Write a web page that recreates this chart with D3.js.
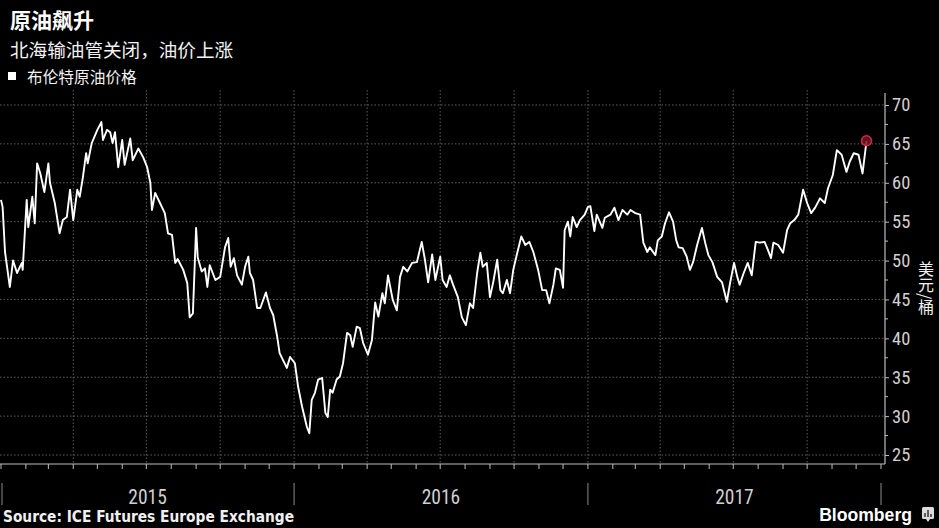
<!DOCTYPE html>
<html><head><meta charset="utf-8">
<script src="https://cdn.jsdelivr.net/npm/d3@7/dist/d3.min.js"></script>
<style>
html,body{margin:0;padding:0;background:#000;}
svg{display:block;}
</style></head>
<body>
<svg id="c" width="939" height="528"></svg>
<script>
const title = "原油飙升";
const subtitle = "北海输油管关闭，油价上涨";
const seriesName = "布伦特原油价格";
const unitLabel = "美元/桶";
const sourceText = "Source: ICE Futures Europe Exchange";
const yearLabels = ["2015", "2016", "2017"];
const yTicks = [25, 30, 35, 40, 45, 50, 55, 60, 65, 70];

const dates = [
"2015-01-01","2015-01-03","2015-01-06","2015-01-12","2015-01-16","2015-01-21","2015-01-27","2015-01-28",
"2015-02-02","2015-02-04","2015-02-09","2015-02-12","2015-02-15","2015-02-19","2015-02-24","2015-03-01",
"2015-03-03","2015-03-09","2015-03-15","2015-03-19","2015-03-24","2015-03-28","2015-04-01","2015-04-06",
"2015-04-09","2015-04-13","2015-04-17","2015-04-19","2015-04-24","2015-05-01","2015-05-06","2015-05-08",
"2015-05-13","2015-05-17","2015-05-20","2015-05-23","2015-05-27","2015-06-01","2015-06-04","2015-06-11",
"2015-06-14","2015-06-21","2015-06-27","2015-07-02","2015-07-06","2015-07-08","2015-07-12","2015-07-18",
"2015-07-24","2015-07-28","2015-08-02","2015-08-06","2015-08-09","2015-08-16","2015-08-21","2015-08-24",
"2015-08-28","2015-09-01","2015-09-03","2015-09-08","2015-09-12","2015-09-15","2015-09-18","2015-09-25",
"2015-10-01","2015-10-07","2015-10-11","2015-10-14","2015-10-18","2015-10-22","2015-10-28","2015-11-01",
"2015-11-05","2015-11-07","2015-11-11","2015-11-16","2015-11-20","2015-11-27","2015-12-02","2015-12-06",
"2015-12-11","2015-12-14","2015-12-23","2015-12-27","2016-01-02","2016-01-06","2016-01-11","2016-01-17",
"2016-01-20","2016-01-23","2016-01-27","2016-01-31","2016-02-05","2016-02-09","2016-02-12","2016-02-15",
"2016-02-18","2016-02-23","2016-02-27","2016-03-02","2016-03-07","2016-03-11","2016-03-14","2016-03-19",
"2016-03-23","2016-03-27","2016-04-02","2016-04-07","2016-04-11","2016-04-15","2016-04-20","2016-04-23",
"2016-04-27","2016-05-03","2016-05-08","2016-05-12","2016-05-16","2016-05-21","2016-05-27","2016-06-02",
"2016-06-08","2016-06-12","2016-06-16","2016-06-21","2016-06-25","2016-07-01","2016-07-04","2016-07-09",
"2016-07-13","2016-07-17","2016-07-23","2016-07-28","2016-08-02","2016-08-07","2016-08-11","2016-08-16",
"2016-08-20","2016-08-23","2016-08-28","2016-09-01","2016-09-05","2016-09-10","2016-09-14","2016-09-17",
"2016-09-22","2016-09-26","2016-09-30","2016-10-05","2016-10-10","2016-10-15","2016-10-20","2016-10-25",
"2016-10-31","2016-11-05","2016-11-10","2016-11-14","2016-11-19","2016-11-22","2016-11-27","2016-12-01",
"2016-12-03","2016-12-07","2016-12-10","2016-12-13","2016-12-18","2016-12-22","2016-12-28","2017-01-01",
"2017-01-04","2017-01-09","2017-01-12","2017-01-19","2017-01-22","2017-01-29","2017-02-03","2017-02-08",
"2017-02-13","2017-02-19","2017-02-23","2017-03-01","2017-03-07","2017-03-11","2017-03-16","2017-03-19",
"2017-03-26","2017-03-29","2017-04-03","2017-04-07","2017-04-12","2017-04-17","2017-04-21","2017-04-24",
"2017-04-29","2017-05-04","2017-05-08","2017-05-12","2017-05-17","2017-05-23","2017-05-27","2017-05-31",
"2017-06-05","2017-06-11","2017-06-17","2017-06-23","2017-06-27","2017-07-02","2017-07-06","2017-07-09",
"2017-07-14","2017-07-19","2017-07-24","2017-07-29","2017-08-03","2017-08-09","2017-08-13","2017-08-17",
"2017-08-20","2017-08-26","2017-09-01","2017-09-06","2017-09-10","2017-09-15","2017-09-20","2017-09-26",
"2017-10-01","2017-10-06","2017-10-11","2017-10-17","2017-10-23","2017-10-27","2017-11-02","2017-11-07",
"2017-11-13","2017-11-19","2017-11-23","2017-11-28","2017-12-04","2017-12-09","2017-12-14"];

const prices = [
57.8,56.9,51.1,46.6,50.0,48.4,49.7,48.8,
57.8,54.3,58.2,54.8,62.5,61.2,58.8,62.5,
60.0,57.4,53.5,55.2,55.6,59.1,55.2,59.1,
58.2,60.7,63.8,62.5,65.1,66.8,67.8,65.5,
66.8,66.5,65.1,66.5,62.0,65.5,62.3,65.7,
62.9,64.4,63.3,62.0,60.0,56.5,58.7,57.4,
56.1,53.5,53.3,49.7,50.2,48.8,47.1,42.7,
43.2,54.2,50.4,48.6,49.0,46.6,49.4,47.5,
47.9,51.7,52.9,49.2,50.3,48.1,46.9,49.2,
50.5,48.4,47.5,43.9,43.9,45.9,43.9,43.0,
40.2,38.1,36.2,37.6,36.8,33.8,31.2,28.6,
27.8,32.1,33.0,34.7,34.9,30.4,29.9,33.4,
33.0,34.7,35.1,36.8,40.7,40.4,38.9,41.5,
41.3,39.4,37.9,39.8,44.6,42.8,45.8,44.5,
48.1,44.9,43.6,47.9,49.2,48.6,49.7,49.8,
52.4,50.1,47.2,50.8,47.5,50.5,47.5,46.6,
48.1,46.9,45.3,42.7,41.7,44.5,43.9,48.4,
51.0,49.2,49.7,45.3,47.2,50.1,46.2,45.8,
47.5,45.8,48.8,51.0,53.1,52.0,52.4,51.1,
48.8,46.2,46.2,44.5,46.9,49.0,48.8,46.5,
53.9,55.0,53.1,55.6,54.3,55.2,55.9,56.9,
57.0,53.8,55.9,54.2,55.5,55.9,56.8,55.2,
56.5,55.9,56.5,56.1,55.9,52.3,51.1,51.7,
50.7,52.6,53.1,54.8,56.2,55.0,52.6,51.7,
51.6,50.5,48.8,49.8,52.0,54.2,52.3,50.7,
49.8,47.9,47.2,44.7,47.1,49.7,47.9,46.9,
48.4,49.7,48.1,52.4,52.3,52.4,51.4,50.3,
52.3,52.0,51.0,53.9,54.8,55.2,55.9,59.1,
57.4,56.1,56.8,58.0,57.4,59.3,61.0,64.2,
63.6,61.4,62.7,63.8,63.6,61.2,65.4];

const parse = d3.timeParse("%Y-%m-%d");
const data = dates.map((d, i) => ({date: parse(d), value: prices[i]}));

const svg = d3.select("#c");
const cjk = '"Noto Sans CJK SC", "Noto Sans", sans-serif';
const narrow = '"Liberation Sans Narrow", "Roboto Condensed", "Liberation Sans", Arial, sans-serif';

const x = d3.scaleTime()
  .domain([new Date(2015, 0, 1), new Date(2018, 0, 1)])
  .range([1, 881]);
const y = d3.scaleLinear().domain([25, 70]).range([455, 105]);

const plotTop = 90, baseY = 464, axisX = 885;

// horizontal grid
svg.append("g").selectAll("line").data(yTicks).join("line")
  .attr("x1", 0).attr("x2", axisX)
  .attr("y1", d => y(d)).attr("y2", d => y(d))
  .attr("stroke", "#5e5e5e").attr("stroke-width", 1)
  .attr("stroke-dasharray", "1.5,2");

// vertical grid (quarterly)
const quarters = d3.timeMonth.every(3).range(new Date(2015, 3, 1), new Date(2018, 0, 1));
svg.append("g").selectAll("line").data(quarters).join("line")
  .attr("x1", d => x(d)).attr("x2", d => x(d))
  .attr("y1", plotTop).attr("y2", baseY)
  .attr("stroke", "#5e5e5e").attr("stroke-width", 1)
  .attr("stroke-dasharray", "1.5,2");

// bottom axis line
svg.append("line").attr("x1", 0).attr("x2", axisX).attr("y1", baseY).attr("y2", baseY)
  .attr("stroke", "#bdbdbd").attr("stroke-width", 1.2);

// month ticks
const months = d3.timeMonth.range(new Date(2015, 0, 1), new Date(2018, 0, 2));
svg.append("g").selectAll("line").data(months).join("line")
  .attr("x1", d => x(d)).attr("x2", d => x(d))
  .attr("y1", baseY).attr("y2", baseY + 5)
  .attr("stroke", "#bdbdbd").attr("stroke-width", 1);

// year separators
const years = d3.timeYear.range(new Date(2015, 0, 1), new Date(2018, 0, 2));
svg.append("g").selectAll("line").data(years).join("line")
  .attr("x1", d => Math.max(2, x(d))).attr("x2", d => Math.max(2, x(d)))
  .attr("y1", 483).attr("y2", 505)
  .attr("stroke", "#8a8a8a").attr("stroke-width", 1);

// year labels
svg.append("g").selectAll("text").data(yearLabels).join("text")
  .attr("x", (d, i) => (x(new Date(+d, 0, 1)) + x(new Date(+d + 1, 0, 1))) / 2)
  .attr("y", 504)
  .attr("text-anchor", "middle")
  .attr("fill", "#d0d0d0")
  .style("font-family", narrow).style("font-size", "19.5px")
  .text(d => d);

// right axis
const yAxis = d3.axisRight(y).tickValues(yTicks).tickSize(4).tickPadding(3);
const ga = svg.append("g").attr("transform", `translate(${axisX},0)`).call(yAxis);
ga.select(".domain").remove();
ga.selectAll(".tick line").attr("stroke", "#bdbdbd");
ga.selectAll(".tick text").attr("fill", "#d0d0d0")
  .style("font-family", narrow).style("font-size", "18.5px");
svg.append("line").attr("x1", axisX).attr("x2", axisX).attr("y1", plotTop + 3).attr("y2", baseY)
  .attr("stroke", "#bdbdbd").attr("stroke-width", 1.2);
// minor ticks
const minor = d3.range(27.5, 71, 5);
svg.append("g").selectAll("line").data(minor).join("line")
  .attr("x1", axisX).attr("x2", axisX + 3)
  .attr("y1", d => y(d)).attr("y2", d => y(d))
  .attr("stroke", "#bdbdbd").attr("stroke-width", 1);

// unit label vertical
svg.append("text")
  .attr("x", 926).attr("y", 261)
  .attr("fill", "#f0f0f0")
  .style("font-family", cjk).style("font-size", "16px")
  .style("writing-mode", "vertical-rl")
  .text(unitLabel);

// line
const line = d3.line().x(d => x(d.date)).y(d => y(d.value));
svg.append("path").datum(data)
  .attr("d", line)
  .attr("fill", "none")
  .attr("stroke", "#ffffff")
  .attr("stroke-width", 1.9)
  .attr("stroke-linejoin", "round");

// end marker
const last = data[data.length - 1];
svg.append("circle")
  .attr("cx", x(last.date)).attr("cy", y(last.value)).attr("r", 5)
  .attr("fill", "#7a1424").attr("stroke", "#d0283c").attr("stroke-width", 1.5)
  .attr("fill-opacity", 0.85);

// titles
svg.append("text").attr("x", 10).attr("y", 28)
  .attr("fill", "#ffffff").style("font-family", cjk)
  .style("font-size", "21px").style("font-weight", "bold").text(title);
svg.append("text").attr("x", 10).attr("y", 57)
  .attr("fill", "#f2f2f2").style("font-family", cjk)
  .style("font-size", "18.6px").text(subtitle);
svg.append("rect").attr("x", 8).attr("y", 72).attr("width", 8).attr("height", 8)
  .attr("fill", "#ffffff");
svg.append("text").attr("x", 27).attr("y", 82.5)
  .attr("fill", "#f2f2f2").style("font-family", cjk)
  .style("font-size", "15.7px").text(seriesName);

// source
svg.append("text").attr("x", 3).attr("y", 522)
  .attr("fill", "#f0f0f0").style("font-family", '"DejaVu Sans Condensed", "DejaVu Sans", sans-serif')
  .style("font-size", "15.3px").style("font-weight", "bold").text(sourceText);

// Bloomberg logo
svg.append("text").attr("x", 912).attr("y", 521)
  .attr("text-anchor", "end")
  .attr("fill", "#ffffff").style("font-family", '"Liberation Sans", Arial, sans-serif')
  .style("font-size", "17.6px").style("font-weight", "bold").text("Bloomberg");
const logo = svg.append("g").attr("transform", "translate(922,507)");
logo.append("rect").attr("width", 12).attr("height", 12).attr("rx", 1.5).attr("fill", "#dcdcdc");
logo.append("path").attr("d", "M3,10V6M6,10V3M9,10V7").attr("stroke", "#333").attr("stroke-width", 1.5);
logo.append("path").attr("d", "M4,12L6,15L8,12Z").attr("fill", "#dcdcdc");
</script>
</body></html>
